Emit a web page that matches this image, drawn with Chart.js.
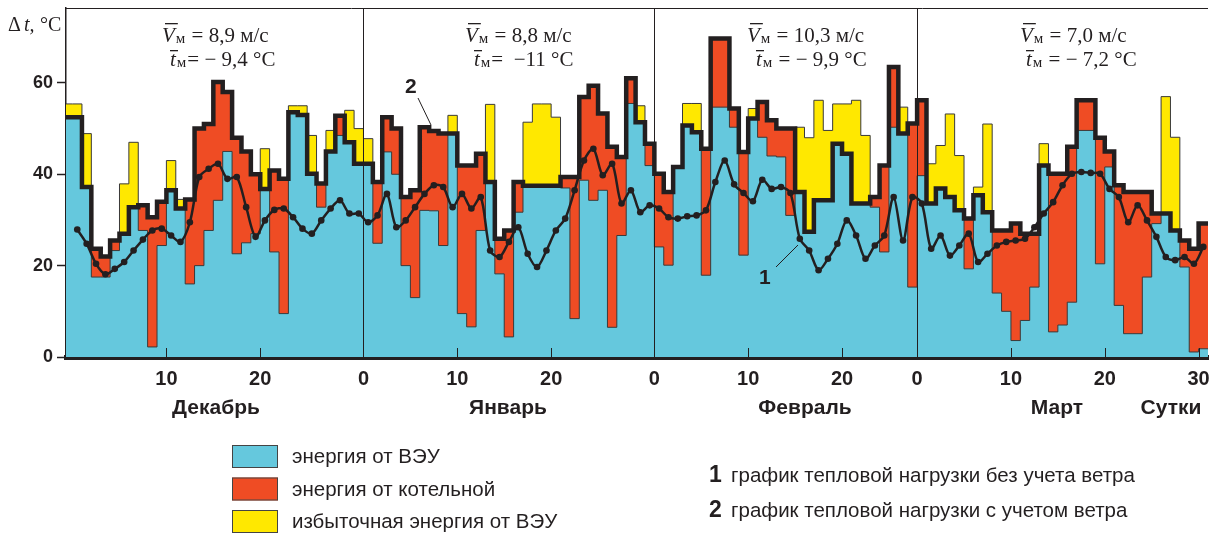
<!DOCTYPE html>
<html lang="ru">
<head>
<meta charset="utf-8">
<title>Тепловая нагрузка и энергия ВЭУ</title>
<script src="https://cdn.jsdelivr.net/npm/chart.js@4.4.1/dist/chart.umd.min.js"></script>
<style>
  html, body { margin: 0; padding: 0; background: #fff; }
  canvas { display: block; }
</style>
</head>
<body>
<canvas id="grafico" width="1212" height="534"></canvas>
<script>
// Подписи месяцев и средние значения за месяц
const monthNames = ['Декабрь', 'Январь', 'Февраль', 'Март'];
const monthStart = [0, 31, 62, 90];
const windMean = ['8,9', '8,8', '10,3', '7,0'];
const tempMean = ['= − 9,4 °C', '=  −11 °C', ' = − 9,9 °C', ' = − 7,2 °C'];

// Деления оси X (сутки от 1 декабря) и их подписи
const tickValues = [10, 20, 31, 41, 51, 62, 72, 82, 90, 100, 110, 120];
const tickLabels = ['10', '20', '0', '10', '20', '0', '10', '20', '0', '10', '20', '30'];
const yTicks = [0, 20, 40, 60];

// Энергия ВЭУ, Δt °C по суткам
const windDec = [55.4, 48.9, 17.5, 17.5, 23.3, 37.9, 47, 27.7, 2.2, 24.4, 43, 34.5, 16, 20, 27.7, 34.3, 45, 22.6, 25, 27, 45.6, 23, 9.5, 55, 55, 48.5, 32.8, 49.6, 48.5, 54, 50];
const windJan = [47.8, 24.9, 44.9, 40, 20, 13, 32.1, 32, 24.4, 52.9, 9.5, 6.6, 27.7, 55.3, 18.2, 4.4, 31.7, 51.4, 55.4, 55.4, 52.5, 37, 8.4, 38.7, 34.3, 36.5, 6.5, 26.6, 55.5, 55, 41.9];
const windFeb = [24.1, 20.1, 41.6, 55.5, 55.5, 17.9, 54.7, 54.7, 50.3, 22.3, 54.4, 48.1, 44, 43.8, 31, 50.3, 48, 56.2, 49.6, 55.4, 55.4, 56.2, 48.5, 32.8, 23, 50.3, 54.7, 15.3];
const windMar = [39.7, 42.3, 46.3, 53.2, 44.1, 19.3, 37.2, 51, 14, 10, 3.6, 8, 15.3, 46.7, 5.5, 7, 12, 49.6, 49.6, 20.4, 41.6, 11.3, 5.1, 5.1, 17.5, 29.2, 57, 48.1, 19.7, 1.1, 1.8];

// График 2: тепловая нагрузка с учетом ветра
const loadDec = [52.5, 37.2, 23.7, 22, 25.5, 27, 32.8, 33.2, 30.6, 34, 36.5, 32.5, 34.5, 50, 51, 60.2, 58, 48, 45, 40, 36.8, 40.8, 39, 53.6, 53, 40.1, 38, 45, 52.8, 47, 42.3];
const loadJan = [42.3, 38.3, 52.5, 50, 35, 36.5, 50.3, 49.5, 48.9, 48.9, 41.9, 41.9, 44.5, 38.3, 25.9, 27.7, 38.3, 37.5, 37.5, 37.5, 37.5, 39.4, 39.4, 56.9, 59.4, 53.3, 46, 43.8, 61, 51.4, 46.7];
const loadFeb = [40.1, 36.1, 41.6, 50.7, 49.2, 45.6, 69.7, 69.7, 54.4, 44.9, 52.2, 55.8, 51.8, 50, 50, 36.1, 27.4, 34.3, 34.3, 46.7, 44.5, 33.6, 33.6, 35, 41.9, 63.5, 48.9, 51.1];
const loadMar = [56.2, 33.6, 36.9, 35, 32.1, 30.3, 35.4, 31.7, 27.7, 27.7, 29.2, 27, 27, 41.9, 40.1, 40.1, 46, 56.2, 56.2, 48, 45, 37.6, 36.1, 36.1, 36.1, 31.4, 31.4, 27.7, 25.5, 23.7, 29.2];

// График 1: тепловая нагрузка без учета ветра
const baseDec = [27.9, 24.8, 20.4, 18.1, 19.3, 20.8, 23.3, 25.7, 27.7, 28.1, 26.6, 25.2, 29.5, 39.4, 41.2, 42.3, 39, 39.4, 32.8, 26.3, 29.9, 32.2, 32.5, 30.6, 28.1, 27, 29.9, 32.5, 34.3, 31.4, 31.4];
const baseJan = [29.5, 31, 35.7, 28.4, 29.9, 32.8, 35.7, 37.6, 37.2, 32.8, 35.7, 32.5, 35, 23.3, 21.9, 25.2, 28.4, 22.6, 19.7, 23.3, 27.7, 30.3, 36.5, 43, 45.6, 39.8, 42.3, 33.6, 36.5, 31.7, 33.2];
const baseFeb = [32.5, 30.6, 30.3, 30.8, 31, 32.1, 38.3, 43, 37.8, 35.9, 34.1, 38.8, 36.8, 37.2, 35.9, 25.9, 23.3, 19, 21.5, 24.8, 29.9, 26.6, 21.5, 24.4, 26.6, 35, 25.5, 35];
const baseMar = [33.6, 23.7, 26.6, 22.2, 24.4, 27, 20.8, 22.6, 24.4, 25.2, 25.5, 25.9, 28.4, 31.4, 33.9, 37.6, 40.1, 40.5, 40.3, 40.1, 36.8, 35, 29.5, 33.2, 29.9, 26.3, 21.9, 21.2, 21.9, 20.4, 24.1];

const dark = '#231F20';
const cyan = '#65C8DD';
const red = '#EF4C24';
const yellow = '#FFE800';
const xMin = -0.7;
const xMax = 121;

const wind = windDec.concat(windJan, windFeb, windMar);
const load = loadDec.concat(loadJan, loadFeb, loadMar);
const baseLoad = baseDec.concat(baseJan, baseFeb, baseMar);
// доля нагрузки, покрытая ВЭУ
const windUsed = wind.map((v, i) => Math.min(v, load[i]));

// ступенчатые точки: значение держится все сутки
function stepPoints(values) {
    const pts = [{ x: xMin, y: values[0] }];
    values.forEach((v, i) => pts.push({ x: i, y: v }));
    pts.push({ x: values.length, y: values[values.length - 1] });
    return pts;
}

// Надпись вида V̄м = ...
function drawMean(ctx, x, yBase, letter, rest, barRise, barShift) {
    ctx.fillStyle = dark;
    ctx.font = 'italic 21px "Liberation Serif"';
    ctx.fillText(letter, x, yBase);
    const w = ctx.measureText(letter).width;
    ctx.fillRect(x + barShift, yBase - barRise, Math.max(w, 8), 1.3);
    ctx.font = '15px "Liberation Serif"';
    ctx.fillText('м', x + w + 1, yBase + 1);
    const wm = ctx.measureText('м').width;
    ctx.font = '21px "Liberation Serif"';
    ctx.fillText(rest, x + w + wm + 2, yBase);
}

const decorPlugin = {
    id: 'decor',
    afterDatasetsDraw(chart) {
        const { ctx, chartArea: a, scales: { x } } = chart;
        ctx.save();
        ctx.strokeStyle = dark;
        ctx.lineWidth = 1;
        // верхняя рамка
        ctx.beginPath();
        ctx.moveTo(a.left, a.top + 0.5);
        ctx.lineTo(a.right, a.top + 0.5);
        ctx.stroke();
        // границы месяцев
        monthStart.slice(1).forEach((m) => {
            const px = Math.round(x.getPixelForValue(m)) + 0.5;
            ctx.beginPath();
            ctx.moveTo(px, a.top);
            ctx.lineTo(px, a.bottom);
            ctx.stroke();
        });
        // короткие деления внутри графика
        tickValues.forEach((t, i) => {
            if (tickLabels[i] === '0') return;
            const px = Math.round(x.getPixelForValue(t)) + 0.5;
            ctx.beginPath();
            ctx.moveTo(px, a.bottom);
            ctx.lineTo(px, a.bottom - 9);
            ctx.stroke();
        });
        ctx.restore();
    },
    afterDraw(chart) {
        const { ctx } = chart;
        ctx.save();
        ctx.fillStyle = dark;
        ctx.textBaseline = 'alphabetic';

        // заголовок оси Y
        ctx.font = '20px "Liberation Serif"';
        ctx.fillText('Δ', 8, 31);
        ctx.font = 'italic 20px "Liberation Serif"';
        ctx.fillText('t,', 24, 31);
        ctx.font = '20px "Liberation Serif"';
        ctx.fillText('°C', 40, 31);

        // средние скорость ветра и температура
        const meanX = [162, 465, 747, 1020];
        const meanTX = [170, 474, 756, 1026];
        monthNames.forEach((m, i) => {
            drawMean(ctx, meanX[i], 42, 'V', ' = ' + windMean[i] + ' м/с', 19, 3);
            drawMean(ctx, meanTX[i], 66, 't', tempMean[i], 16, 0);
        });

        // названия месяцев
        ctx.font = 'bold 21px "Liberation Sans"';
        ctx.textAlign = 'center';
        const monthX = [216, 508, 805, 1057];
        monthNames.forEach((m, i) => ctx.fillText(m, monthX[i], 414));
        ctx.fillText('Сутки', 1171, 414);

        // номера графиков
        ctx.textAlign = 'left';
        ctx.font = 'bold 21px "Liberation Sans"';
        ctx.fillText('2', 405, 93);
        ctx.fillText('1', 759, 284);
        ctx.strokeStyle = dark;
        ctx.lineWidth = 1;
        ctx.beginPath();
        ctx.moveTo(418, 98);
        ctx.lineTo(431, 125);
        ctx.moveTo(776, 267);
        ctx.lineTo(798, 245);
        ctx.stroke();

        // легенда слева
        const legendItems = [
            [cyan, 'энергия от ВЭУ'],
            [red, 'энергия от котельной'],
            [yellow, 'избыточная энергия от ВЭУ']
        ];
        legendItems.forEach(([c, t], i) => {
            const top = 445 + i * 32.5;
            ctx.fillStyle = c;
            ctx.fillRect(232, top, 46, 23);
            ctx.strokeStyle = '#444';
            ctx.strokeRect(232.5, top + 0.5, 45, 22);
            ctx.fillStyle = dark;
            ctx.font = '20.5px "Liberation Sans"';
            ctx.fillText(t, 292, top + 18);
        });

        // легенда справа
        const lineNotes = ['график тепловой нагрузки без учета ветра', 'график тепловой нагрузки с учетом ветра'];
        lineNotes.forEach((t, i) => {
            const yb = 482 + i * 35;
            ctx.font = 'bold 23px "Liberation Sans"';
            ctx.fillText(String(i + 1), 709, yb);
            ctx.font = '20.5px "Liberation Sans"';
            ctx.fillText(t, 731, yb);
        });
        ctx.restore();
    }
};

const ctx = document.getElementById('grafico').getContext('2d');
new Chart(ctx, {
    type: 'line',
    data: {
        datasets: [
            {
                label: 'график тепловой нагрузки без учета ветра',
                data: baseLoad.map((v, i) => ({ x: i + 0.5, y: v })),
                borderColor: dark,
                borderWidth: 2.5,
                pointRadius: 3.3,
                pointBackgroundColor: dark,
                pointBorderWidth: 0,
                tension: 0.3,
                fill: false,
                order: 0
            },
            {
                label: 'график тепловой нагрузки с учетом ветра',
                data: stepPoints(load),
                stepped: 'before',
                borderColor: dark,
                borderWidth: 4.5,
                pointRadius: 0,
                fill: false,
                order: 1
            },
            {
                label: 'энергия от ВЭУ',
                data: stepPoints(windUsed),
                stepped: 'before',
                borderColor: '#3a3a3a',
                borderWidth: 1,
                backgroundColor: cyan,
                fill: 'origin',
                pointRadius: 0,
                order: 2
            },
            {
                label: 'энергия от котельной',
                data: stepPoints(load),
                stepped: 'before',
                borderWidth: 0,
                backgroundColor: red,
                fill: 'origin',
                pointRadius: 0,
                order: 3
            },
            {
                label: 'избыточная энергия от ВЭУ',
                data: stepPoints(wind),
                stepped: 'before',
                borderColor: '#3a3a3a',
                borderWidth: 1,
                backgroundColor: yellow,
                fill: 'origin',
                pointRadius: 0,
                order: 4
            }
        ]
    },
    options: {
        responsive: false,
        animation: false,
        layout: { padding: { top: 8, right: 0, left: 0, bottom: 0 } },
        plugins: {
            legend: { display: false },
            tooltip: { enabled: false }
        },
        scales: {
            x: {
                type: 'linear',
                min: xMin,
                max: xMax,
                afterBuildTicks: (s) => { s.ticks = tickValues.map((v) => ({ value: v })); },
                afterFit: (s) => { s.height = 177; s.paddingLeft = 0; s.paddingRight = 0; },
                ticks: {
                    autoSkip: false,
                    maxRotation: 0,
                    padding: 10,
                    color: dark,
                    font: { family: 'Liberation Sans', size: 20, weight: 'bold' },
                    callback: (v) => tickLabels[tickValues.indexOf(v)]
                },
                grid: { drawOnChartArea: false, drawTicks: false },
                border: { color: dark, width: 5 }
            },
            y: {
                min: 0,
                max: 76.4,
                afterBuildTicks: (s) => { s.ticks = yTicks.map((v) => ({ value: v })); },
                afterFit: (s) => { s.width = 66; s.paddingTop = 0; s.paddingBottom = 0; },
                ticks: {
                    padding: 4,
                    color: dark,
                    font: { family: 'Liberation Sans', size: 18, weight: 'bold' }
                },
                grid: { drawOnChartArea: false, tickLength: 9, tickColor: dark, tickWidth: 1.5 },
                border: { color: dark, width: 1.5 }
            }
        }
    },
    plugins: [decorPlugin]
});
</script>
</body>
</html>
